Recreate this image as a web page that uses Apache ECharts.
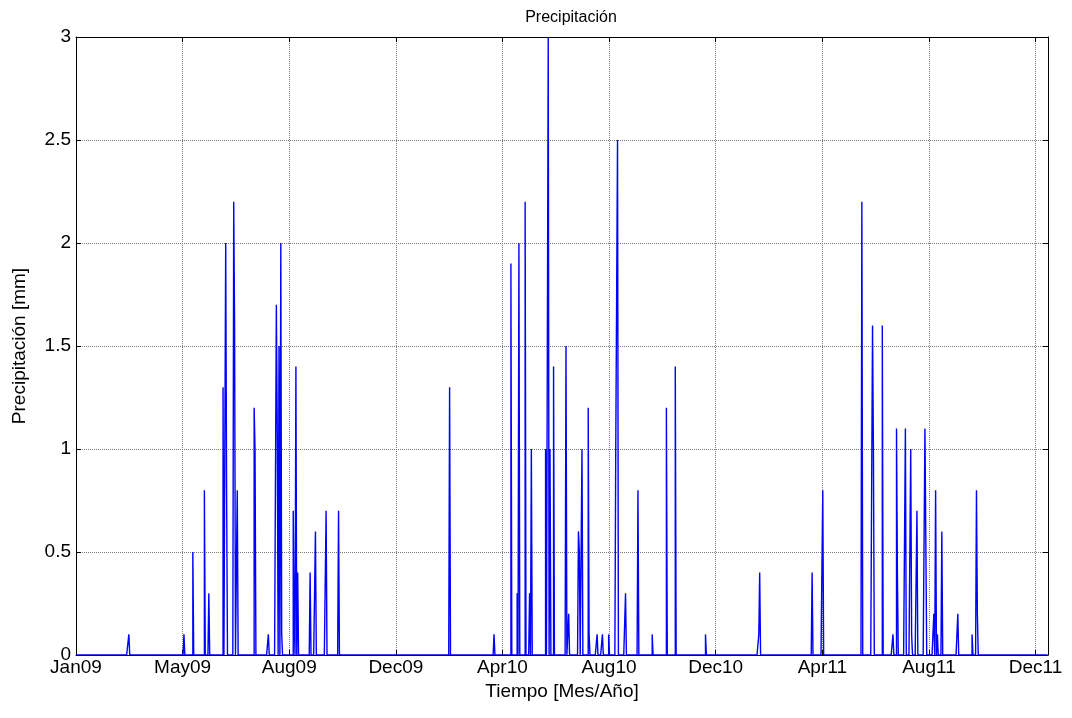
<!DOCTYPE html>
<html>
<head>
<meta charset="utf-8">
<script src="https://cdn.jsdelivr.net/npm/echarts@6/dist/echarts.min.js"></script>
<style>
  html, body { margin: 0; padding: 0; background: #fff; }
  #chart { width: 1072px; height: 718px; }
</style>
</head>
<body>
<div id="chart"></div>
<script>
// Daily record from 1 Jan 2009 (day 0) to 31 Dec 2011
const dayCount = 1095;
const tickStep = 120; // days between labelled ticks
const tickLabels = ['Jan09', 'May09', 'Aug09', 'Dec09', 'Apr10', 'Aug10', 'Dec10', 'Apr11', 'Aug11', 'Dec11'];

// Rainy days (day index from 1 Jan 2009) and their precipitation in mm
const rainDay2009 = [60, 122, 132, 145, 150, 166, 169, 170, 178, 179, 182, 201, 202, 217, 226, 227, 229, 231, 232, 245, 246, 248, 250, 264, 270, 282, 296];
const rainMm2009  = [0.1, 0.1, 0.5, 0.8, 0.3, 1.3, 2.0, 0.8, 2.2, 1.6, 0.8, 1.2, 1.0, 0.1, 1.7, 1.1, 1.5, 2.0, 0.1, 0.7, 0.2, 1.4, 0.4, 0.4, 0.6, 0.7, 0.7];

const rainDay2010 = [421, 471, 490, 497, 499, 506, 511, 513, 529, 532, 534, 538, 552, 555, 566, 567, 570, 577, 578, 587, 593, 600, 608, 609, 610, 619, 633, 649, 665, 675, 709];
const rainMm2010  = [1.3, 0.1, 1.9, 0.3, 2.0, 2.2, 0.3, 1.0, 1.0, 3.0, 1.0, 1.4, 1.5, 0.2, 0.6, 0.5, 1.0, 1.2, 0.1, 0.1, 0.1, 0.1, 1.0, 1.0, 2.5, 0.3, 0.8, 0.1, 1.2, 1.4, 0.1];

const rainDay2011 = [769, 770, 829, 841, 885, 897, 898, 908, 920, 924, 925, 934, 940, 941, 947, 956, 957, 966, 968, 970, 975, 993, 1009, 1014, 1015];
const rainMm2011  = [0.1, 0.4, 0.4, 0.8, 2.2, 1.6, 1.0, 1.6, 0.1, 1.1, 0.4, 1.1, 1.0, 0.1, 0.7, 1.1, 1.1, 0.2, 0.8, 0.1, 0.6, 0.2, 0.1, 0.8, 0.2];

// Full daily series: dry days are 0 mm
const daily = new Array(dayCount).fill(0);
[[rainDay2009, rainMm2009], [rainDay2010, rainMm2010], [rainDay2011, rainMm2011]].forEach(([days, mm]) => {
  days.forEach((d, i) => { daily[d] = mm[i]; });
});
const seriesData = daily.map((v, d) => [d, v]);

const fontFamily = "'Liberation Sans', Arial, sans-serif";
const xMax = dayCount - 1;

const chart = echarts.init(document.getElementById('chart'), null, { renderer: 'canvas' });

const xLabel = (v) => {
  const k = Math.round(v / tickStep);
  return (Math.abs(v - k * tickStep) < 1e-6 && tickLabels[k] !== undefined) ? tickLabels[k] : '';
};

const boxAxisLine = { show: true, onZero: false, lineStyle: { color: '#000', width: 1 } };
const inTicks = { show: true, inside: true, length: 5, lineStyle: { color: '#000' } };
const dottedGrid = { show: true, lineStyle: { color: '#7a7a7a', type: 'dotted', width: 1 } };

chart.setOption({
  animation: false,
  backgroundColor: '#ffffff',
  title: {
    text: 'Precipitación',
    left: 566,
    textAlign: 'center',
    top: 5,
    textStyle: { fontFamily, fontSize: 16, fontWeight: 'normal', color: '#000' }
  },
  grid: { left: 76, right: 24, top: 37, bottom: 63, containLabel: false },
  xAxis: [
    {
      type: 'value',
      min: 0,
      max: xMax,
      interval: tickStep,
      position: 'bottom',
      name: 'Tiempo [Mes/Año]',
      nameLocation: 'middle',
      nameGap: 22,
      nameTextStyle: { fontFamily, fontSize: 19, color: '#000' },
      axisLine: boxAxisLine,
      axisTick: inTicks,
      axisLabel: { fontFamily, fontSize: 19, color: '#000', margin: 3, formatter: xLabel, showMaxLabel: false },
      splitLine: dottedGrid
    },
    {
      type: 'value',
      min: 0,
      max: xMax,
      interval: tickStep,
      position: 'top',
      axisLine: boxAxisLine,
      axisTick: inTicks,
      axisLabel: { show: false },
      splitLine: { show: false }
    }
  ],
  yAxis: [
    {
      type: 'value',
      min: 0,
      max: 3,
      interval: 0.5,
      position: 'left',
      name: 'Precipitación [mm]',
      nameLocation: 'middle',
      nameGap: 47,
      nameRotate: 90,
      nameTextStyle: { fontFamily, fontSize: 19, color: '#000' },
      axisLine: boxAxisLine,
      axisTick: inTicks,
      axisLabel: { fontFamily, fontSize: 19, color: '#000', margin: 5 },
      splitLine: dottedGrid
    },
    {
      type: 'value',
      min: 0,
      max: 3,
      interval: 0.5,
      position: 'right',
      axisLine: boxAxisLine,
      axisTick: inTicks,
      axisLabel: { show: false },
      splitLine: { show: false }
    }
  ],
  series: [
    {
      type: 'line',
      xAxisIndex: 0,
      yAxisIndex: 0,
      data: seriesData,
      step: 'middle',
      showSymbol: false,
      symbol: 'none',
      sampling: null,
      clip: true,
      lineStyle: { color: '#0000ff', width: 1.4 },
      z: 3
    }
  ]
});
</script>
</body>
</html>
